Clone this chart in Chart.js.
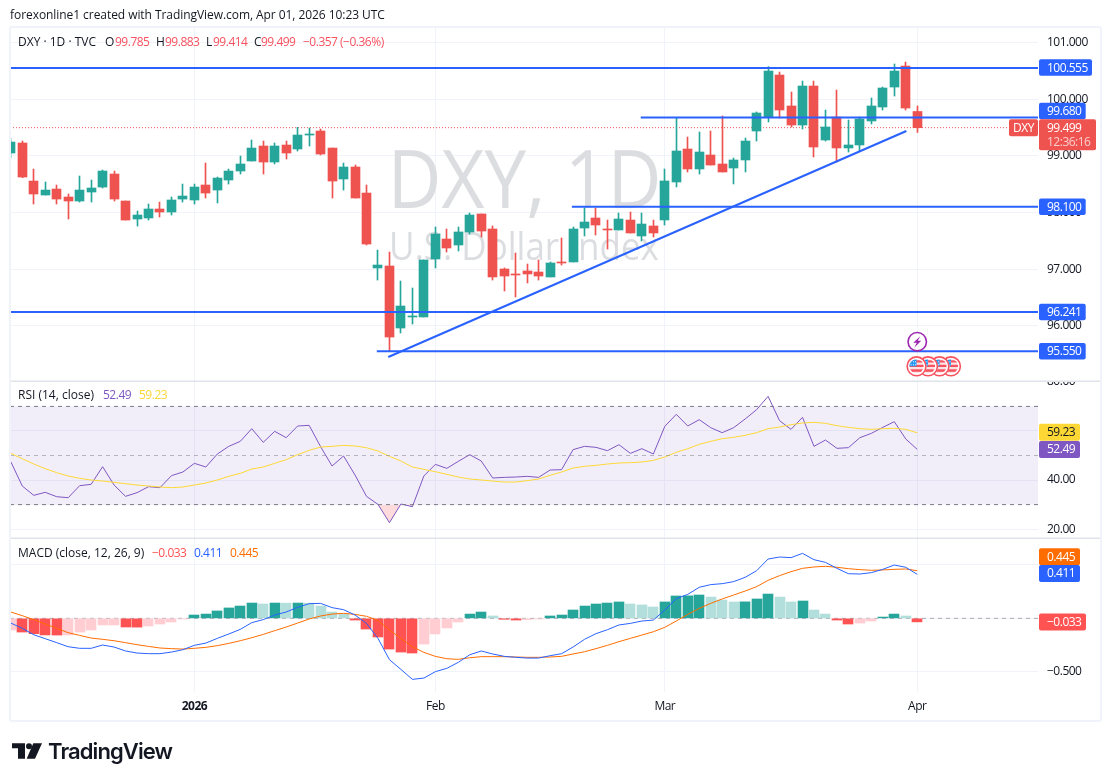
<!DOCTYPE html>
<html><head><meta charset="utf-8">
<script src="https://cdn.jsdelivr.net/npm/chart.js@4"></script>
<style>
html,body{margin:0;padding:0;background:#fff;width:1110px;height:781px;overflow:hidden}
canvas{position:absolute;left:0;top:0}
#frame{position:absolute;left:9px;top:26px;width:1093px;height:696px;box-sizing:border-box;border:2px solid #f0f3fa;border-radius:3px;pointer-events:none}
.t{position:absolute;white-space:nowrap;font:12px/16px "Open Sans",sans-serif;color:#131722}
.n{letter-spacing:-0.5px}
.r{color:#f7525f}
</style></head><body>
<canvas id="c" width="1110" height="781"></canvas>
<div id="frame"></div>
<div class="t" style="left:10px;top:7px;letter-spacing:-0.06px">forexonline1 created with TradingView.com, Apr 01, 2026 10:23 UTC</div>
<div class="t" style="left:18px;top:34px">DXY · 1D · TVC</div>
<div class="t" style="left:105px;top:34px">O</div><div class="t r n" style="left:115px;top:34px">99.785</div>
<div class="t" style="left:156px;top:34px">H</div><div class="t r n" style="left:165px;top:34px">99.883</div>
<div class="t" style="left:206px;top:34px">L</div><div class="t r n" style="left:213px;top:34px">99.414</div>
<div class="t" style="left:254px;top:34px">C</div><div class="t r n" style="left:261px;top:34px">99.499</div>
<div class="t r n" style="left:303px;top:34px">−0.357 (−0.36%)</div>
<div class="t" style="left:18px;top:387px">RSI (14, close)</div>
<div class="t n" style="left:103px;top:387px;color:#7e57c2">52.49</div>
<div class="t n" style="left:139px;top:387px;color:#fdd835">59.23</div>
<div class="t" style="left:18px;top:545px">MACD (close, 12, 26, 9)</div>
<div class="t n" style="left:152px;top:545px;color:#ff5252">−0.033</div>
<div class="t n" style="left:194px;top:545px;color:#2962ff">0.411</div>
<div class="t n" style="left:230px;top:545px;color:#ff6d00">0.445</div>
<svg style="position:absolute;left:12px;top:743px" width="30" height="16" viewBox="0 0 30 15.5"><path fill="#131722" d="M0 0H13V15.5H6V5H0ZM30 0L23 15.5H14.7L21.3 0Z"/><circle fill="#131722" cx="17" cy="3" r="3"/></svg>
<div class="t" style="left:48px;top:739px;font:600 22px/24px Inter,sans-serif;color:#131722;letter-spacing:-0.9px">TradingView</div>
<script>
const opens=[99.051,99.228,98.556,98.309,98.415,98.274,98.203,98.362,98.450,98.680,98.203,97.885,97.903,98.062,98.009,98.238,98.221,98.486,98.397,98.574,98.733,98.910,99.175,98.892,99.192,99.122,99.369,99.440,99.139,98.592,98.804,98.344,97.020,97.055,95.959,96.154,96.154,97.179,97.532,97.426,97.656,97.974,97.709,97.002,96.914,96.967,96.949,96.861,97.126,97.126,97.726,97.903,97.709,97.691,97.867,97.585,97.762,97.868,98.539,99.122,98.769,99.016,98.857,98.786,98.928,99.440,99.687,100.429,99.882,99.546,100.235,99.281,99.687,99.140,99.193,99.617,99.864,100.217,100.588,99.785];
const highs=[99.316,99.263,98.768,98.539,98.486,98.327,98.645,98.574,98.751,98.733,98.203,98.026,98.150,98.185,98.274,98.503,98.503,98.874,98.627,98.768,98.998,99.281,99.263,99.228,99.263,99.504,99.493,99.475,99.139,98.874,98.839,98.486,97.337,97.302,96.790,96.666,97.161,97.744,97.709,97.744,97.991,97.974,97.762,97.020,97.285,97.090,97.161,97.126,97.550,97.744,98.080,98.080,97.867,97.991,98.009,97.991,97.867,98.769,99.681,99.334,99.422,99.440,99.705,98.963,99.316,99.776,100.577,100.482,100.129,100.323,100.323,99.811,100.164,99.634,99.687,100.023,100.217,100.624,100.659,99.883];
const lows=[98.963,98.615,98.150,98.309,98.150,97.885,98.185,98.185,98.433,98.203,97.867,97.761,97.867,97.920,97.956,98.185,98.150,98.256,98.168,98.503,98.680,98.910,98.680,98.857,98.945,99.086,99.175,99.016,98.256,98.397,98.256,97.426,96.807,95.553,95.871,96.030,96.154,97.020,97.302,97.320,97.620,97.567,96.807,96.613,96.507,96.755,96.807,96.861,97.072,97.126,97.585,97.603,97.355,97.691,97.638,97.497,97.567,97.779,98.451,98.716,98.680,98.839,98.716,98.504,98.716,99.263,99.599,99.670,99.511,99.475,98.981,99.263,98.892,99.069,99.087,99.564,99.811,100.058,99.811,99.414];
const closes=[99.245,98.627,98.327,98.397,98.238,98.203,98.397,98.433,98.733,98.238,97.867,97.956,98.062,98.009,98.221,98.291,98.450,98.344,98.609,98.733,98.857,99.139,98.892,99.175,99.051,99.369,99.387,99.033,98.556,98.804,98.256,97.443,97.072,95.800,96.348,96.172,97.161,97.620,97.373,97.656,97.956,97.673,96.861,96.878,96.896,96.914,96.878,97.108,97.108,97.709,97.832,97.779,97.691,97.885,97.638,97.797,97.638,98.557,99.087,98.769,99.069,98.839,98.716,98.928,99.263,99.758,100.500,99.811,99.546,100.235,99.157,99.511,99.140,99.193,99.652,99.882,100.200,100.500,99.846,99.499];
const rsiValues=[47.49,37.58,33.77,35.0,33.23,32.82,37.71,38.25,45.45,37.98,33.37,34.86,37.3,36.9,41.79,43.28,46.81,45.32,50.61,53.73,55.77,60.93,55.36,59.84,57.26,62.02,62.29,53.6,45.72,49.8,42.06,33.37,30.1,22.64,30.24,29.16,41.66,46.4,44.77,47.62,50.34,47.76,40.83,41.1,41.24,41.51,41.1,44.09,44.23,52.38,53.73,53.33,51.97,54.41,50.88,52.78,50.61,61.88,66.77,62.02,64.6,61.34,59.3,61.34,64.87,68.67,74.1,64.19,60.66,65.55,53.73,56.31,52.92,53.19,57.26,59.03,61.47,63.78,56.72,52.49];
const rsiAverage=[50.88,48.71,46.54,44.64,43.01,41.65,40.7,40.02,39.61,39.07,38.53,37.98,37.58,37.17,36.9,37.17,37.98,38.8,40.02,41.51,42.74,44.5,45.32,46.81,48.3,50.34,52.11,53.46,53.73,54.14,53.87,53.19,51.83,49.66,47.76,45.32,44.37,43.41,42.33,41.24,40.43,40.02,39.61,39.2,39.2,39.75,40.43,41.92,43.28,44.91,45.59,46.0,46.54,46.95,47.08,47.35,48.03,49.39,51.29,52.78,54.55,55.77,56.86,57.4,58.21,59.3,60.93,61.61,62.56,63.24,63.51,63.1,62.15,61.47,60.93,60.66,60.93,61.07,60.66,59.23];
const macdLine=[-0.044,-0.093,-0.153,-0.190,-0.227,-0.265,-0.280,-0.280,-0.249,-0.268,-0.305,-0.324,-0.330,-0.330,-0.315,-0.293,-0.252,-0.231,-0.187,-0.146,-0.103,-0.040,-0.012,0.031,0.059,0.103,0.137,0.140,0.100,0.081,0.031,-0.047,-0.187,-0.386,-0.477,-0.570,-0.558,-0.498,-0.467,-0.411,-0.340,-0.305,-0.333,-0.355,-0.364,-0.371,-0.371,-0.349,-0.330,-0.268,-0.196,-0.143,-0.106,-0.062,-0.047,-0.025,-0.016,0.078,0.184,0.224,0.290,0.315,0.324,0.343,0.383,0.445,0.554,0.573,0.567,0.607,0.548,0.523,0.467,0.417,0.414,0.427,0.458,0.498,0.477,0.411];
const signalLine=[0.059,0.025,-0.012,-0.053,-0.093,-0.134,-0.159,-0.184,-0.196,-0.209,-0.227,-0.246,-0.262,-0.277,-0.283,-0.287,-0.280,-0.271,-0.255,-0.234,-0.209,-0.181,-0.150,-0.115,-0.081,-0.044,-0.006,0.022,0.040,0.047,0.037,0.019,-0.019,-0.109,-0.187,-0.265,-0.318,-0.355,-0.377,-0.383,-0.368,-0.358,-0.358,-0.358,-0.361,-0.364,-0.364,-0.361,-0.355,-0.333,-0.312,-0.283,-0.252,-0.218,-0.187,-0.156,-0.125,-0.084,-0.025,0.037,0.093,0.140,0.181,0.218,0.255,0.296,0.355,0.399,0.436,0.467,0.480,0.486,0.477,0.464,0.455,0.449,0.452,0.458,0.461,0.445];
const histogram=[-0.109,-0.128,-0.143,-0.155,-0.156,-0.155,-0.128,-0.109,-0.062,-0.062,-0.081,-0.082,-0.072,-0.053,-0.034,-0.006,0.031,0.040,0.069,0.097,0.115,0.143,0.134,0.143,0.142,0.143,0.142,0.115,0.059,0.040,-0.016,-0.100,-0.174,-0.287,-0.315,-0.324,-0.240,-0.146,-0.090,-0.034,0.040,0.059,0.022,-0.009,-0.016,-0.012,-0.006,0.022,0.031,0.078,0.115,0.134,0.143,0.153,0.134,0.125,0.106,0.153,0.209,0.210,0.218,0.199,0.171,0.153,0.154,0.181,0.227,0.199,0.153,0.162,0.078,0.040,-0.016,-0.053,-0.044,-0.025,0.012,0.040,0.022,-0.033];
const levelValues=[100.555,99.680,98.100,96.241,95.550];
const levelStarts=[0,54.9,48.9,0,31.9];
const trendX=[32.9,78.05];
const trendY=[95.447,99.44];
const lastPrice=99.499;
const priceTicks=[101,100,99,98,97,96];
const rsiTicks=[80,60,40,20];
const macdTicks=[0.5,0,-0.5];
const timeTicks=[16,37,57,79];
const timeLabels=['2026','Feb','Mar','Apr'];

const XMIN=-0.07, XMAX=89.524;
const UP='#26a69a', DOWN='#ef5350', BLUE='#2962ff';
const FONT='"Open Sans",sans-serif';
const idx=closes.map((_,i)=>i);
const cColor=idx.map(i=>closes[i]>=opens[i]?UP:DOWN);
const hColor=histogram.map((v,i)=>{const p=i?histogram[i-1]:-Infinity;
  return v>=0?(v>p?'#26a69a':'#b2dfdb'):(v<p?'#ff5252':'#ffcdd2');});
const L=(data,color,y,extra)=>Object.assign({type:'line',data,borderColor:color,borderWidth:1,yAxisID:y,pointRadius:0,tension:0,fill:false,order:1},extra||{});
const hline=(v,a,b)=>[{x:a,y:v},{x:b,y:v}];
const datasets=[
 {type:'bar',data:idx.map(i=>({x:i,y:[lows[i],highs[i]]})),backgroundColor:cColor,barThickness:1,grouped:false,yAxisID:'yP',order:6,snap:true},
 {type:'bar',data:idx.map(i=>({x:i,y:[opens[i],closes[i]]})),backgroundColor:cColor,barThickness:9,minBarLength:1,grouped:false,yAxisID:'yP',order:5,snap:true},
 L(hline(lastPrice,XMIN,XMAX),DOWN,'yP',{borderDash:[1,2],order:7}),
 ...levelValues.map((v,k)=>L(hline(v,levelStarts[k],XMAX),BLUE,'yP',{borderWidth:2})),
 L(trendX.map((x,k)=>({x,y:trendY[k]})),BLUE,'yP',{borderWidth:2}),
 L(hline(70,XMIN,XMAX),'#787b86','yR',{borderDash:[4,4]}),
 L(hline(50,XMIN,XMAX),'rgba(120,123,134,.5)','yR',{borderDash:[4,4]}),
 L(hline(30,XMIN,XMAX),'#787b86','yR',{borderDash:[4,4]}),
 L(rsiAverage.map((y,x)=>({x,y})),'#fdd835','yR'),
 L(rsiValues.map((y,x)=>({x,y})),'#7e57c2','yR',{fill:{target:{value:30},above:'rgba(0,0,0,0)',below:'rgba(242,54,69,.18)'}}),
 L(hline(0,XMIN,XMAX),'rgba(120,123,134,.6)','yM',{borderDash:[4,4],order:8}),
 {type:'bar',data:histogram.map((y,x)=>({x,y})),backgroundColor:hColor,barThickness:10,grouped:false,yAxisID:'yM',order:3,snapH:true},
 L(signalLine.map((y,x)=>({x,y})),'#ff6d00','yM',{order:2}),
 L(macdLine.map((y,x)=>({x,y})),BLUE,'yM',{order:1})
];
function tag(ctx,x,yc,w,h,bg,lines,r){
  ctx.fillStyle=bg;ctx.beginPath();ctx.roundRect(x,yc-h/2,w,h,r===undefined?2:r);ctx.fill();
  ctx.textBaseline='middle';ctx.textAlign='left';ctx.font='12px '+FONT;
  lines.forEach(l=>{ctx.fillStyle=l.c||'#fff';ctx.fillText(l.t,l.x||x+8,l.y||yc+0.5);});
}
const deco={id:'deco',
 beforeDraw(ch){ch.ctx.letterSpacing='-0.5px';},
 beforeDatasetsDraw(ch){
  const c=ch.ctx,a=ch.chartArea,R=ch.scales.yR;
  c.save();
  c.fillStyle='rgba(126,87,194,.1)';
  c.fillRect(a.left,R.getPixelForValue(70),a.right-a.left,R.getPixelForValue(30)-R.getPixelForValue(70));
  c.letterSpacing='0px';
  c.fillStyle='#dcdde0';c.textAlign='center';c.textBaseline='alphabetic';
  c.save();c.translate(524.5,208);c.scale(1,1.09);c.font='74.5px '+FONT;c.fillText('DXY, 1D',0,0);c.restore();
  c.save();c.translate(524,260);c.scale(1,1.09);c.font='35px '+FONT;c.fillText('U.S. Dollar Index',0,0);c.restore();
  c.restore();
 },
 beforeDatasetDraw(ch,args){
  const d=ch.data.datasets[args.index];
  if(d.snap)args.meta.data.forEach(e=>{e.x=Math.floor(e.x)+0.5;});
  if(d.snapH)args.meta.data.forEach(e=>{e.x=Math.round(e.x);});
 },
 afterDraw(ch){
  const c=ch.ctx,P=ch.scales.yP,R=ch.scales.yR,M=ch.scales.yM,X=ch.scales.x;
  c.save();
  c.fillStyle='#fff';c.fillRect(1039,368,60,13);
  c.fillStyle='#e0e3eb';c.fillRect(10,380.5,1090,1.5);c.fillRect(10,537.5,1090,1.5);
  // event icons
  const xe=X.getPixelForValue(79);
  c.strokeStyle='#9c27b0';c.lineWidth=1.6;c.fillStyle='#fff';
  c.beginPath();c.arc(xe,341.7,9.2,0,7);c.fill();c.stroke();
  c.fillStyle='#9c27b0';c.beginPath();
  [[3,-5.5],[-4,1],[-0.5,1],[-3,6],[4,-1],[0.5,-1]].forEach((p,k)=>{k?c.lineTo(xe+p[0],341.7+p[1]):c.moveTo(xe+p[0],341.7+p[1]);});
  c.closePath();c.fill();
  [82,81,80,79].forEach(i=>{
   const x=X.getPixelForValue(i)-0.7,y=366.3;
   c.fillStyle='#fff';c.beginPath();c.arc(x,y,10,0,7);c.fill();
   c.save();c.beginPath();c.arc(x,y,7,0,7);c.clip();
   c.fillStyle='#fde1e3';c.fillRect(x-8,y-8,16,16);
   c.fillStyle='#f7525f';c.fillRect(x-8,y-6,16,2.2);c.fillRect(x-8,y-1.5,16,2.2);c.fillRect(x-8,y+3,16,2.5);
   c.fillStyle='#2196f3';c.fillRect(x-8,y-7,8,7);
   c.fillStyle='#fff';
   [-6,-3.5,-1.5].forEach(dx=>[-5,-2].forEach(dy=>c.fillRect(x+dx,y+dy,1,1)));
   c.restore();
   c.strokeStyle='#f7525f';c.lineWidth=1.6;c.beginPath();c.arc(x,y,9.4,0,7);c.stroke();
  });
  const T=1039;
  levelValues.forEach((v,k)=>{
   const w=k===0?53:46.7, y=P.getPixelForValue(v)+(k===1?-6.3:0)-(k===0?0.3:0);
   tag(c,T,y,w,16.5,BLUE,[{t:v.toFixed(3)}]);
  });
  const yl=P.getPixelForValue(lastPrice);
  tag(c,1009,yl,29,17,DOWN,[{t:'DXY',x:1013}]);
  c.fillStyle=DOWN;c.beginPath();c.roundRect(T,yl-8.5,57,31,2);c.fill();
  c.font='12px '+FONT;c.textBaseline='middle';
  c.fillStyle='#fff';c.fillText(lastPrice.toFixed(3),1047,yl+0.5);
  c.fillStyle='rgba(255,255,255,.72)';c.fillText('12:36:16',1047,yl+15);
  tag(c,T,R.getPixelForValue(rsiAverage[79])-0.5,41,17,'#fdd835',[{t:rsiAverage[79].toFixed(2),c:'#131722'}]);
  tag(c,T,R.getPixelForValue(rsiValues[79]),41,17,'#7e57c2',[{t:rsiValues[79].toFixed(2)}]);
  tag(c,T,556.7,41,17,'#ff6d00',[{t:signalLine[79].toFixed(3)}]);
  tag(c,T,M.getPixelForValue(macdLine[79])-0.8,41,17,BLUE,[{t:macdLine[79].toFixed(3)}]);
  tag(c,T,M.getPixelForValue(histogram[79]),47,17,'#ff5252',[{t:'−'+Math.abs(histogram[79]).toFixed(3)}]);
  c.restore();
 }
};
const GRID='#f0f3fa';
const yAxis=(min,max,weight,ticks,fmt)=>({type:'linear',position:'right',stack:'panes',stackWeight:weight,min,max,
  afterBuildTicks:s=>{s.ticks=ticks.map(value=>({value}));},
  afterFit:s=>{s.width=62;},
  border:{display:false},
  grid:{color:GRID,lineWidth:1,drawTicks:false},
  ticks:{autoSkip:false,padding:9,color:'#131722',font:{family:FONT,size:12},callback:fmt}});
new Chart(document.getElementById('c'),{
 data:{datasets},
 plugins:[deco],
 options:{responsive:false,animation:false,devicePixelRatio:1,
  layout:{padding:{left:10,right:10,top:28,bottom:61}},
  plugins:{legend:{display:false},tooltip:{enabled:false}},
  events:[],
  scales:{
   x:{type:'linear',position:'bottom',min:XMIN,max:XMAX,offset:false,
    afterBuildTicks:s=>{s.ticks=timeTicks.map(value=>({value}));},
    afterFit:s=>{s.height=28;},
    border:{display:false},
    grid:{color:GRID,lineWidth:1,drawTicks:false,offset:false},
    ticks:{autoSkip:false,maxRotation:0,padding:7,color:'#131722',
      font:c=>({family:FONT,size:12,weight:c.tick&&c.tick.value===16?'700':'400'}),
      callback:v=>timeLabels[timeTicks.indexOf(v)]}},
   yP:yAxis(95.023,101.26,353,priceTicks,v=>v.toFixed(3)),
   yR:yAxis(16.4,80.35,157,rsiTicks,v=>v.toFixed(2)),
   yM:yAxis(-0.688,0.7505,154,macdTicks,v=>v===0?'':(v<0?'−':'')+Math.abs(v).toFixed(3))
  }}
});
</script>
</body></html>
